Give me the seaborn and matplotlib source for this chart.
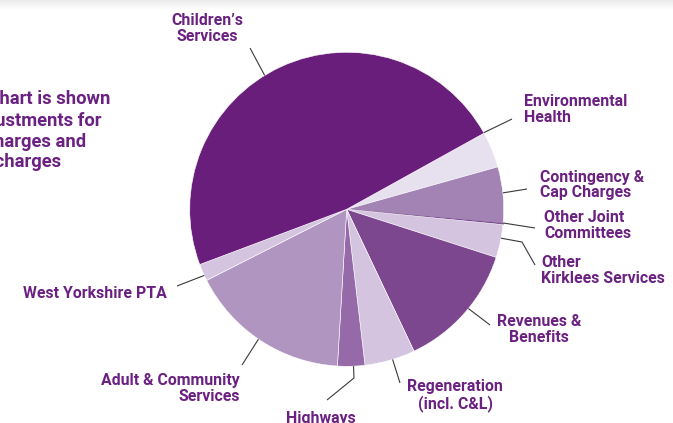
import matplotlib
matplotlib.use("Agg")
import matplotlib.pyplot as plt
from matplotlib import font_manager
import seaborn as sns
import numpy as np

# ---------------- data ----------------
categories = [
    "Environmental\nHealth",
    "Contingency &\nCap Charges",
    "Other Joint\nCommittees",
    "Other\nKirklees Services",
    "Revenues &\nBenefits",
    "Regeneration\n(incl. C&L)",
    "Highways",
    "Adult & Community\nServices",
    "West Yorkshire PTA",
    "Children’s\nServices",
]
shares = [3.7, 5.8, 0.12, 3.4, 13.0, 5.2, 2.8, 16.6, 1.75, 47.7]
slice_colors = [
    "#e7e0ee", "#a283b4", "#7a4a8e", "#d4c4df", "#7c478f",
    "#d4c4df", "#9669a8", "#b095c1", "#d4c4df", "#6a1e7b",
]
side_text = ["This chart is shown", "after adjustments for",
             "capital charges and", "recharges"]

# ---------------- style ----------------
sns.set_theme(style="white")
available = {f.name for f in font_manager.fontManager.ttflist}
fam = [f for f in ["Roboto", "DejaVu Sans"] if f in available]
plt.rcParams["font.family"] = fam
TEXT = "#6b2181"
LINE = "#3a3a3a"

W, H = 673, 423
fig = plt.figure(figsize=(W / 100, H / 100), dpi=100)
fig.patch.set_facecolor("white")

# subtle grey band at the top of the page
band = fig.add_axes([0, 1 - 10 / H, 1, 10 / H])
band.imshow(np.linspace(0.92, 1.0, 20)[:, None] * np.ones((1, 2)), cmap="gray",
            vmin=0, vmax=1, aspect="auto", extent=(0, 1, 0, 1))
band.axis("off")

# pie axes: circle centred at (346.7, 209.3) px with radius 157 px
cx, cy, R = 346.7, 209.3, 157.0
ax = fig.add_axes([(cx - R) / W, 1 - (cy + R) / H, 2 * R / W, 2 * R / H])
wedges, _ = ax.pie(shares, colors=slice_colors, startangle=29, counterclock=False,
                   wedgeprops=dict(linewidth=0.4, edgecolor="white"))
wedges[2].set_edgecolor(slice_colors[2])
wedges[2].set_linewidth(0.7)
for w in wedges:
    w.set_clip_on(False)
ax.set_xlim(-1, 1)
ax.set_ylim(-1, 1)
ax.set_aspect("equal")
ax.axis("off")

def px(x, y):
    """pixel (from top-left) -> pie data coords"""
    return (x - cx) / R, (cy - y) / R

# label layout: (text position px, ha, leader start angle on rim, leader path px)
layout = [
    ((524, 109.5), "left", 29.2, [(512, 119)]),
    ((540, 185), "left", 6.0, [(527, 189)]),
    ((544, 225.5), "left", -5.0, [(535, 228)]),
    ((541, 270.5), "left", -10.6, [(522, 242), (535, 265)]),
    ((539, 329.5), "center", -39.2, [(490, 325)]),
    ((455, 395.5), "center", -73.0, [(400, 383)]),
    ((321, 419), "center", -87.5, [(354, 378), (327, 400)]),
    ((240, 388.5), "right", 235.8, [(242, 365)]),
    ((167, 293), "right", 204.9, [(177, 286)]),
    ((207, 28.5), "center", 121.5, [(250, 48)]),
]

for label, (tp, ha, ang, path) in zip(categories, layout):
    a = np.deg2rad(ang)
    pts = [(np.cos(a), np.sin(a))] + [px(*p) for p in path]
    xs, ys = zip(*pts)
    ax.plot(xs, ys, color=LINE, lw=0.8, clip_on=False, solid_capstyle="butt")
    tx, ty = px(*tp)
    ax.text(tx, ty, label, ha=ha, va="center", multialignment=ha, color=TEXT,
            fontsize=11.4, fontweight="bold", linespacing=1.03, clip_on=False)

# clipped side text at the far left
for line, (xr, yc) in zip(side_text, [(110, 99), (101, 121), (86, 142), (61, 162)]):
    fig.text(xr / W, 1 - yc / H, line, ha="right", va="center", color=TEXT,
             fontsize=13.2, fontweight="bold")

fig.savefig("out.png", dpi=100)
